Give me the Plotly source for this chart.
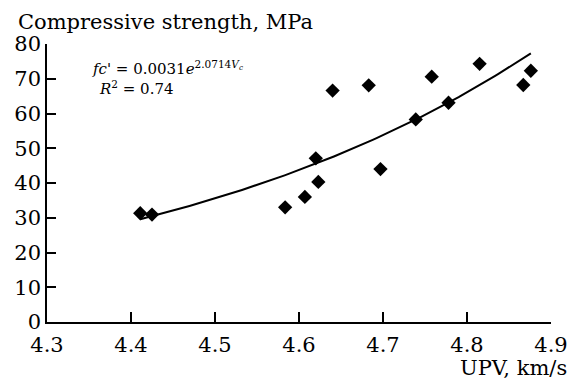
import numpy as np
import plotly.graph_objects as go

# Data
upv = [4.411, 4.425, 4.5835, 4.607, 4.620, 4.623, 4.640, 4.683, 4.697,
       4.739, 4.758, 4.778, 4.815, 4.867, 4.876]
strength = [31.3, 30.9, 33.0, 36.0, 47.1, 40.3, 66.6, 68.1, 44.0,
            58.3, 70.6, 63.1, 74.3, 68.2, 72.3]
x_ticks = [4.3, 4.4, 4.5, 4.6, 4.7, 4.8, 4.9]
y_ticks = [0, 10, 20, 30, 40, 50, 60, 70, 80]

# Exponential trendline (least squares on log values, like a spreadsheet trendline)
b, ln_a = np.polyfit(np.array(upv), np.log(np.array(strength)), 1)
xs = np.linspace(min(upv), max(upv), 120)
ys = np.exp(ln_a) * np.exp(b * xs)

FONT = "DejaVu Serif"
FS = 21

fig = go.Figure()
fig.add_trace(go.Scatter(x=xs, y=ys, mode="lines",
                         line=dict(color="black", width=2), hoverinfo="skip"))
fig.add_trace(go.Scatter(x=upv, y=strength, mode="markers",
                         marker=dict(symbol="diamond", size=11, color="black",
                                     line=dict(width=0))))

axis_common = dict(showgrid=False, zeroline=False, showline=True, linecolor="black",
                   linewidth=1.5, ticks="inside", tickcolor="black", tickwidth=1.5,
                   tickfont=dict(family=FONT, size=FS, color="black"))

fig.update_layout(
    width=580, height=386,
    margin=dict(l=47, r=23, t=44, b=64),
    paper_bgcolor="white", plot_bgcolor="white",
    showlegend=False,
    font=dict(family=FONT, size=FS, color="black"),
    xaxis=dict(range=[4.3, 4.9], tickvals=x_ticks,
               ticktext=[f"{v:.1f}" for v in x_ticks], ticklen=10,
               ticklabelstandoff=3, **axis_common),
    yaxis=dict(range=[0, 80], tickvals=y_ticks,
               ticktext=[str(v) for v in y_ticks], ticklen=9, **axis_common),
    annotations=[
        dict(text="Compressive strength, MPa", xref="paper", yref="paper",
             x=-0.061, y=1.079, xanchor="left", yanchor="middle", showarrow=False,
             font=dict(family=FONT, size=FS, color="black")),
        dict(text="UPV, km/s", xref="paper", yref="paper",
             x=1.0353, y=-0.1655, xanchor="right", yanchor="middle", showarrow=False,
             font=dict(family=FONT, size=FS, color="black")),
        dict(text="<i>fc'</i> = 0.0031<i>e</i><sup>2.0714<i>V</i><sub><i>c</i></sub></sup>",
             xref="paper", yref="paper", x=0.086, y=0.915, xanchor="left",
             yanchor="middle", showarrow=False,
             font=dict(family=FONT, size=15, color="black")),
        dict(text="<i>R</i><sup>2</sup> = 0.74",
             xref="paper", yref="paper", x=0.1, y=0.843, xanchor="left",
             yanchor="middle", showarrow=False,
             font=dict(family=FONT, size=15, color="black")),
    ],
)

fig.write_html("out.html")
